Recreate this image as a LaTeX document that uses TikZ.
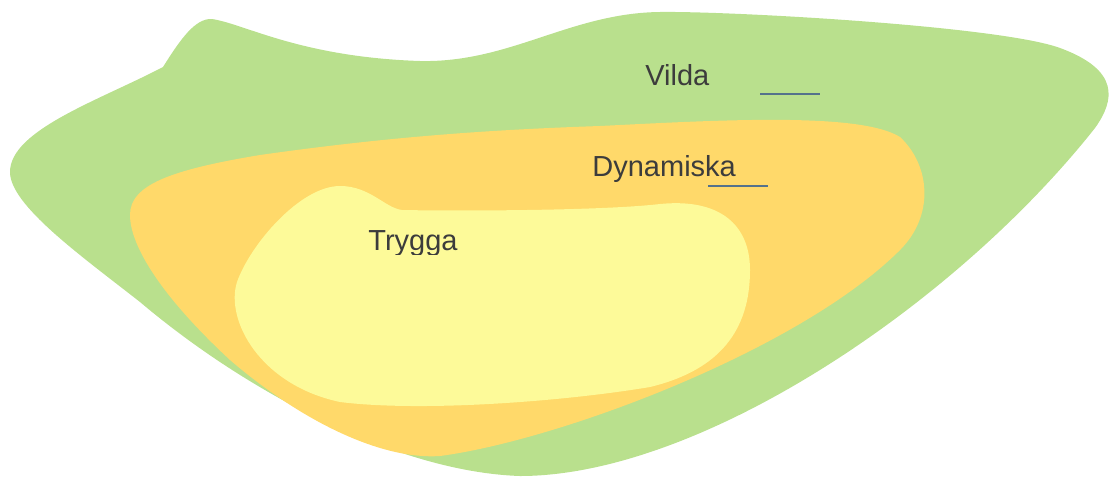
\documentclass[tikz,border=0pt]{standalone}
\usepackage{fontspec}
\setmainfont{Liberation Sans}

\definecolor{vildagreen}{RGB}{185,224,141}
\definecolor{dyngold}{RGB}{255,217,106}
\definecolor{tryggyellow}{RGB}{253,250,153}
\definecolor{labelgray}{RGB}{60,60,60}
\definecolor{cursorblue}{RGB}{84,114,140}

\begin{document}
\begin{tikzpicture}[x = 0.5pt, y = -0.5pt % one unit is one pixel
            ]

            \tikzstyle{every node}=[inner sep = 0pt, anchor = base west,
            text = labelgray, font = \fontsize{14.5}{17}\selectfont]
            \tikzstyle{cursorline}=[cursorblue, line width = 0.8pt]

            \useasboundingbox (0,0) rectangle (1111,477);

            % outer zone
            \fill[vildagreen] (163,67) .. controls (180,40) and (195,18) ..
            (212,19) .. controls (245,24) and (300,57) .. (420,61)
            .. controls (510,63) and (570,13) .. (660,12) .. controls (730,11)
            and (1000,26) .. (1060,48) .. controls (1120,70) and (1115,100) ..
            (1095,128) .. controls (955,305) and (700,476) .. (520,476)
            .. controls (400,472) and (250,395) .. (140,302) .. controls
            (80,255) and (10,205) .. (10,172) .. controls (10,130) and (100,100)
            .. cycle;

            % middle zone
            \fill[dyngold] (130,215) .. controls (130,185) and (170,170) ..
            (260,155) .. controls (380,138) and (480,130) .. (600,126)
            .. controls (720,120) and (860,112) .. (900,137) .. controls
            (930,165) and (935,215) .. (900,250) .. controls (800,350) and
            (560,440) .. (440,456) .. controls (380,460) and (300,420) ..
            (230,360) .. controls (160,295) and (130,245) .. cycle;

            % inner zone
            \fill[tryggyellow] (402,210) .. controls (450,211) and (600,211) ..
            (660,204) .. controls (720,198) and (750,225) .. (750,270)
            .. controls (750,330) and (720,370) .. (650,387) .. controls
            (560,402) and (420,412) .. (340,402) .. controls (260,385) and
            (225,320) .. (237,282) .. controls (250,245) and (300,186) ..
            (340,186) .. controls (370,186) and (385,208) .. cycle;

            \node (vilda) at (645,85) {Vilda};
            \node (dyn) at (592,176) {Dynamiska};
            \begin{scope}
            \clip (360,200) rectangle (470,254);
            \node (trygga) at (368,250) {Trygga};
            \end{scope}

            \coordinate (v1) at (760,94); \coordinate (v2) at (820,94);
            \coordinate (d1) at (708,186); \coordinate (d2) at (768,186);
            \draw[cursorline] (v1) -- (v2); \draw[cursorline] (d1) -- (d2);
        \end{tikzpicture}
\end{document}
